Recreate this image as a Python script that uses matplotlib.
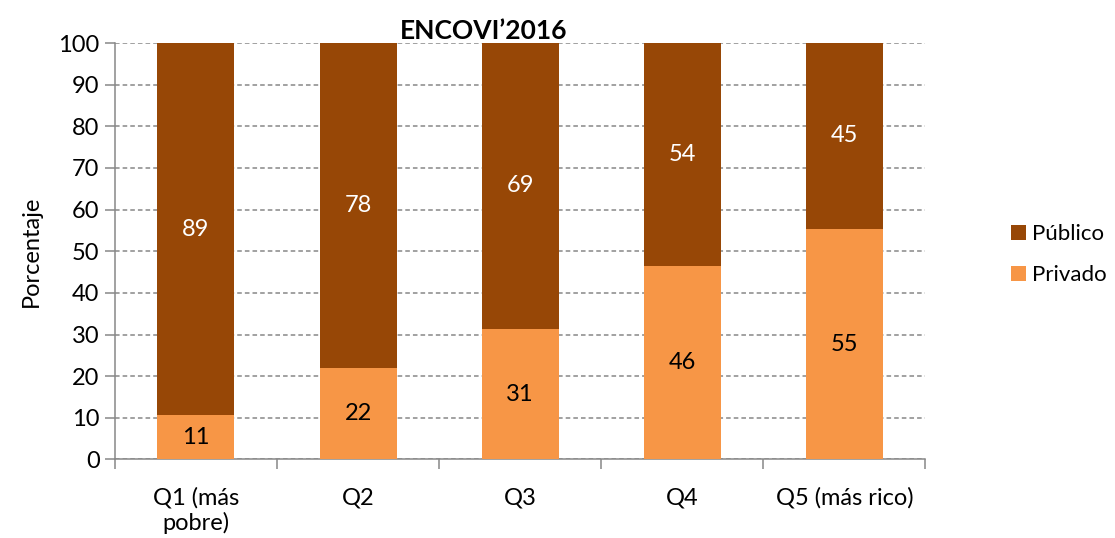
#!/usr/bin/env python3
import matplotlib
matplotlib.use('Agg')
import matplotlib.pyplot as plt
import numpy as np

plt.rcParams['font.family'] = ['Lato', 'DejaVu Sans']

categories = ['Q1 (más\npobre)', 'Q2', 'Q3', 'Q4', 'Q5 (más rico)']
privado = [10.6, 21.9, 31.4, 46.4, 55.4]
publico = [89.4, 78.1, 68.6, 53.6, 44.6]

col_pub = '#974706'
col_priv = '#F79646'
gray = '#888888'

fig = plt.figure(figsize=(11.15, 5.38), dpi=100)
ax = fig.add_axes([0.103, 0.146, 0.727, 0.774])

x = np.arange(len(categories))
b1 = ax.bar(x, privado, width=0.475, color=col_priv, label='Privado', zorder=3)
b2 = ax.bar(x, publico, width=0.475, bottom=privado, color=col_pub, label='Público', zorder=3)

for i in range(len(x)):
    ax.text(x[i], privado[i] / 2, '%d' % round(privado[i]), ha='center', va='center',
            fontsize=17, color='black', zorder=4)
    ax.text(x[i], privado[i] + publico[i] / 2, '%d' % round(publico[i]), ha='center', va='center',
            fontsize=17, color='white', zorder=4)

ax.set_xlim(-0.5, len(x) - 0.5)
ax.set_ylim(0, 100)
ax.set_yticks(np.arange(0, 101, 10))
ax.yaxis.grid(True, linestyle=(0, (3, 2)), color=gray, linewidth=1.1, zorder=0)
ax.set_axisbelow(True)

ax.set_xticks(x)
ax.set_xticklabels(categories, fontsize=17, linespacing=1.15)
ax.set_xticks(np.arange(-0.5, len(x), 1), minor=True)
ax.tick_params(axis='x', which='major', length=0, pad=20)
ax.tick_params(axis='x', which='minor', length=7, color=gray, width=1.1)
ax.tick_params(axis='y', length=7, color=gray, width=1.1, labelsize=17, pad=4)

for s in ['top', 'right']:
    ax.spines[s].set_visible(False)
for s in ['left', 'bottom']:
    ax.spines[s].set_color(gray)
    ax.spines[s].set_linewidth(1.1)

ax.set_ylabel('Porcentaje', fontsize=17, labelpad=12)
ax.set_title('ENCOVI\u20192016', fontsize=19, fontweight='bold', pad=3, x=0.455)

handles = [b2, b1]
fig.legend(handles, ['Público', 'Privado'], loc='center left', bbox_to_anchor=(0.907, 0.527),
           frameon=False, fontsize=16, handlelength=0.65, handleheight=0.65,
           handletextpad=0.3, labelspacing=0.95, borderpad=0, borderaxespad=0)

plt.savefig('out.png', dpi=100)
